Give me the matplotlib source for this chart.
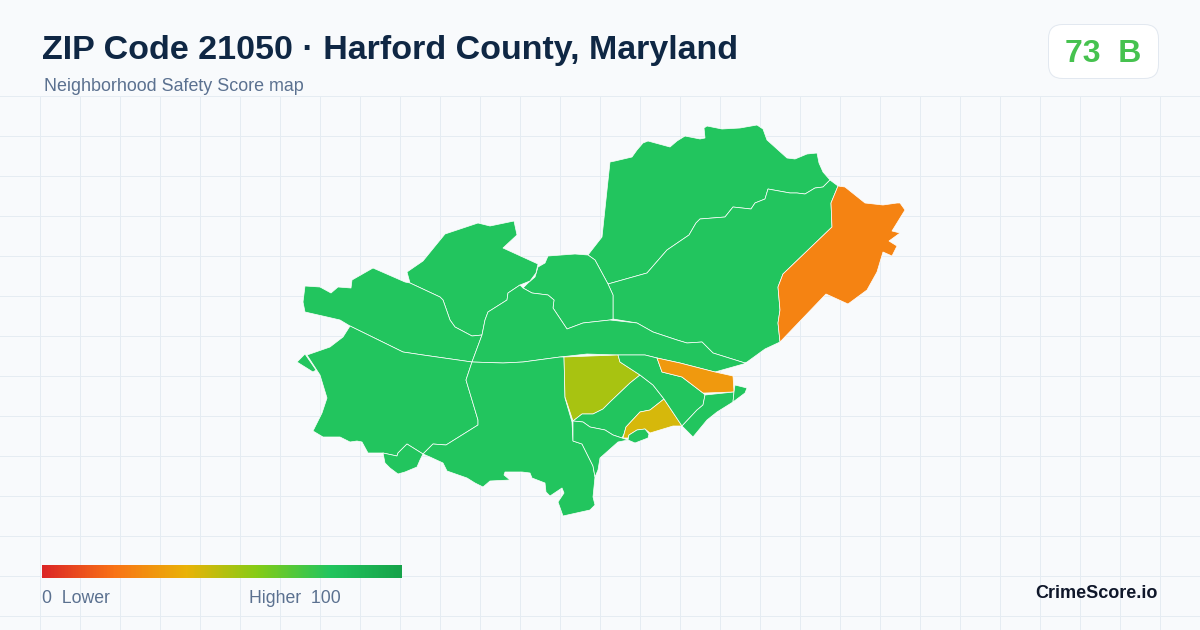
#ZIP 21050 safety score map, outlines in pixel units
#imports
import matplotlib
matplotlib.use("Agg")
import matplotlib.pyplot as plt
import numpy as np
from matplotlib.colors import LinearSegmentedColormap
from matplotlib.patches import FancyBboxPatch, Polygon

plt.rcParams['font.family'] = ['Liberation Sans', 'DejaVu Sans']

title = "ZIP Code 21050 · Harford County, Maryland"
subtitle = "Neighborhood Safety Score map"
badge = "73  B"
brand = "CrimeScore.io"
legend_low = "0  Lower"
legend_high = "Higher  100"

#score colours of the legend bar
ramp_stops = [0.0, 0.2, 0.4, 0.6, 0.8, 1.0]
ramp_colors = ["#DC2626", "#F97316", "#EAB308", "#84CC16", "#22C55E", "#16A34A"]

#outlines
north = [(610,162),(615,161),(632,157),(637,150),(643,143),(648,141),(670,147),(677,141),(685,136),(700,139),(705,138),(704,128),(707,126),(722,129),(740,128),(757,125),(763,129),(767,140),(787,158),(795,159),(807,154),(817,153),(819,163),(823,172),(830,180),(823,187),(815,188),(805,194),(797,193),(790,193),(768,189),(765,199),(755,203),(751,209),(733,207),(725,217),(700,219),(696,223),(689,235),(667,250),(647,273),(608,284),(595,260),(588,255),(602,237)]
northeast = [(608,284),(647,273),(667,250),(689,235),(696,223),(700,219),(725,217),(733,207),(751,209),(755,203),(765,199),(768,189),(790,193),(797,193),(805,194),(815,188),(823,187),(830,180),(838,186),(831,203),(832,227),(783,274),(778,287),(780,310),(778,323),(780,342),(765,349),(747,362),(745,363),(713,353),(702,342),(687,343),(677,340),(653,332),(637,323),(613,319),(613,295)]
upper_mid = [(548,256),(575,254),(588,255),(595,260),(608,284),(613,295),(613,319),(610,320),(583,323),(567,329),(553,308),(554,300),(548,295),(532,293),(523,288),(528,283),(535,277),(538,267),(545,263)]
hill = [(407,272),(423,261),(445,234),(478,223),(490,226),(514,221),(517,235),(503,248),(538,264),(536,273),(530,281),(520,285),(508,293),(507,300),(488,312),(485,320),(482,335),(472,336),(455,327),(450,320),(443,300),(440,297),(410,283)]
west_top = [(305,286),(320,287),(331,293),(338,287),(351,288),(352,280),(373,268),(405,282),(410,283),(440,297),(443,300),(450,320),(455,327),(472,336),(482,335),(472,362),(423,355),(403,352),(350,326),(340,320),(327,317),(305,312),(303,302)]
center = [(482,335),(485,320),(488,312),(507,300),(508,293),(520,285),(523,288),(532,293),(548,295),(554,300),(553,308),(567,329),(583,323),(610,320),(637,323),(653,332),(677,340),(687,343),(702,342),(713,353),(745,363),(747,363),(715,372),(680,363),(657,358),(645,355),(618,355),(587,354),(560,357),(523,362),(503,363),(472,362)]
southwest = [(307,355),(330,347),(343,337),(350,326),(403,352),(423,355),(472,362),(466,380),(478,420),(478,425),(446,445),(433,444),(423,454),(407,444),(398,453),(397,456),(383,453),(368,453),(362,442),(357,441),(350,442),(340,437),(323,437),(313,431),(322,413),(327,398),(320,375)]
sliver = [(297,362),(305,354),(316,370),(313,372)]
pocket = [(383,453),(397,456),(398,453),(407,444),(423,454),(420,460),(417,467),(405,472),(398,474),(390,468),(385,463)]
south = [(472,362),(503,363),(523,362),(560,357),(564,357),(565,398),(572,422),(573,441),(582,444),(593,466),(595,477),(593,497),(595,505),(590,510),(563,516),(558,502),(564,493),(562,488),(550,496),(546,492),(545,483),(532,478),(530,473),(522,472),(505,472),(504,475),(510,480),(490,481),(483,487),(475,483),(467,478),(447,471),(443,463),(430,457),(423,454),(433,444),(446,445),(478,425),(478,420),(466,380)]
lime_tract = [(564,357),(618,355),(620,362),(640,375),(630,383),(610,402),(603,409),(593,414),(582,414),(573,421),(565,397)]
inner_south = [(573,421),(582,414),(593,414),(603,409),(610,402),(630,383),(640,375),(653,385),(664,399),(650,410),(640,412),(626,427),(624,434),(622,438),(613,435),(605,430),(590,427),(583,422)]
gold_tract = [(664,399),(682,426),(673,426),(650,433),(645,429),(637,430),(629,435),(628,438),(623,438),(626,427),(640,412),(650,410)]
cove = [(629,435),(637,430),(645,429),(649,434),(648,438),(635,443),(628,440)]
shore_west = [(573,421),(583,422),(590,427),(605,430),(613,435),(622,438),(628,440),(618,442),(600,458),(598,470),(595,477),(593,466),(582,444),(573,441)]
inner_east = [(620,362),(618,355),(645,355),(657,358),(662,372),(682,377),(703,393),(705,395),(703,405),(697,410),(682,426),(664,399),(653,385),(640,375)]
amber_strip = [(657,358),(680,363),(715,372),(733,376),(734,392),(705,393),(703,393),(682,377),(662,372)]
point_south = [(705,395),(734,392),(733,402),(717,412),(707,420),(693,437),(682,426),(697,410),(703,405)]
point_tip = [(735,385),(747,388),(745,393),(733,402),(734,392)]
orange_tract = [(838,186),(845,187),(865,203),(883,205),(897,203),(900,203),(905,210),(892,231),(900,233),(889,241),(897,246),(892,256),(883,252),(877,272),(867,290),(848,304),(826,294),(780,342),(778,323),(780,310),(778,287),(783,274),(832,227),(831,203)]

regions = [north, northeast, upper_mid, hill, west_top, center, southwest, sliver, pocket, south,
           lime_tract, inner_south, gold_tract, cove, shore_west, inner_east, amber_strip,
           point_south, point_tip, orange_tract]
scores = [80, 80, 80, 80, 80, 80, 80, 80, 80, 80,
          53, 80, 44, 80, 80, 80, 32, 80, 80, 25]

cmap = LinearSegmentedColormap.from_list("score", list(zip(ramp_stops, ramp_colors)))

fig = plt.figure(figsize=(12, 6.3), dpi=100, facecolor="#F8FAFC")
ax = fig.add_axes([0, 0, 1, 1])
ax.set_xlim(0, 1200)
ax.set_ylim(630, 0)
ax.axis("off")

#background grid, 0.72 pt is one pixel here
for x in np.arange(40, 1200, 40):
    ax.plot([x, x], [96, 630], color="#E5ECF2", lw=0.72, zorder=1)
for y in np.arange(96, 630, 40):
    ax.plot([0, 1200], [y, y], color="#E5ECF2", lw=0.72, zorder=1)

#map
for outline, score in zip(regions, scores):
    ax.add_patch(Polygon(outline, closed=True, facecolor=cmap(score / 100),
                         edgecolor="white", lw=0.5, joinstyle="round", zorder=2))

#header
ax.text(42, 59, title, fontsize=24.5, fontweight="bold", color="#0F2744", zorder=5)
ax.text(44, 91, subtitle, fontsize=12.9, color="#5B7190", zorder=5)

#score badge
ax.add_patch(FancyBboxPatch((1048.5, 24.5), 110, 54, boxstyle="round,pad=0,rounding_size=14",
                            facecolor="white", edgecolor="#E2E8F0", lw=0.72, zorder=3))
ax.text(1103, 62, badge, fontsize=23, fontweight="bold", color="#46C24F", ha="center", zorder=5)

#legend bar
ramp = np.linspace(0, 1, 360).reshape(1, -1)
ax.imshow(ramp, cmap=cmap, extent=(42, 402, 578, 565), aspect="auto", zorder=3)
ax.set_xlim(0, 1200)
ax.set_ylim(630, 0)
ax.text(42, 603, legend_low, fontsize=12.7, color="#5B7190", zorder=5)
ax.text(249, 603, legend_high, fontsize=12.7, color="#5B7190", zorder=5)
ax.text(1158, 598, brand, fontsize=13, fontweight="bold", color="#0F172A", ha="right", zorder=5)

fig.savefig("out.png", dpi=100, facecolor=fig.get_facecolor())
